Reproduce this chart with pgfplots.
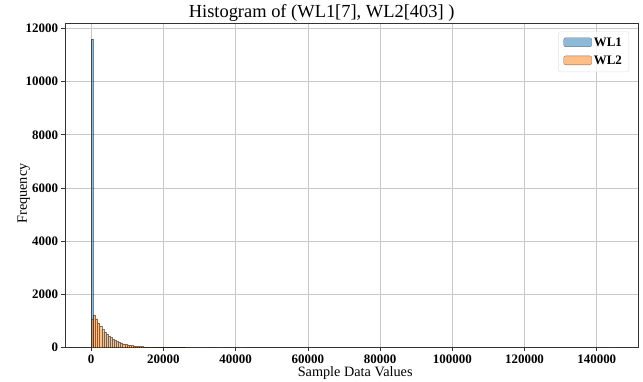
\documentclass[border=0pt]{standalone}
\usepackage{pgfplots}
\pgfplotsset{compat=1.18}
\usepackage{fontspec}
\setmainfont{Liberation Serif}
\definecolor{mplblue}{HTML}{1F77B4}
\definecolor{mplorange}{HTML}{FF7F0E}
\definecolor{gridgray}{HTML}{B0B0B0}
\newcommand{\tickfont}{\bfseries\fontsize{13}{15}\selectfont}
\begin{document}
\begin{tikzpicture}
\path[use as bounding box] (-65bp,-34.3bp) rectangle (578bp,347.7bp);
\begin{axis}[
  at={(0,0)}, anchor=south west,
  scale only axis,
  width=573.3bp, height=324.2bp,
  xmin=-7250, xmax=151500,
  ymin=0, ymax=12180,
  xtick={0,20000,40000,60000,80000,100000,120000,140000},
  xticklabels={0,20000,40000,60000,80000,100000,120000,140000},
  ytick={0,2000,4000,6000,8000,10000,12000},
  yticklabels={0,2000,4000,6000,8000,10000,12000},
  scaled ticks=false,
  xticklabel style={font=\tickfont},
  yticklabel style={font=\tickfont},
  tick align=outside,
  xtick pos=bottom, ytick pos=left,
  major tick length=3.5bp,
  tick style={black!80, line width=0.6pt},
  axis line style={black!80, line width=0.6pt},
  grid=major,
  major grid style={gridgray!70, line width=0.6pt},
  title={Histogram of (WL1[7], WL2[403] )},
  title style={font=\fontsize{18.5}{21}\selectfont, at={(0.5,1)}, anchor=base, yshift=0bp, xshift=-30bp, inner sep=0pt},
  xlabel={Sample Data Values},
  xlabel style={font=\fontsize{14.3}{17}\selectfont, at={(0.5,0)}, anchor=base, yshift=-29bp, xshift=3.5bp, inner sep=0pt},
  ylabel={Frequency},
  ylabel style={font=\fontsize{14.3}{17}\selectfont, at={(0,0.5)}, anchor=base, yshift=38bp, xshift=-8bp, inner sep=0pt},
  legend style={at={(0.984,0.975)}, anchor=north east, draw=gray!25, fill=white, fill opacity=0.8, text opacity=1, rounded corners=2pt,
    font=\tickfont, row sep=4bp, inner xsep=5bp, inner ysep=4bp},
  legend cell align=left,
  legend image code/.code={\draw[#1] (-8bp,-4bp) rectangle (20bp,5bp);},
]
\addplot[ybar, bar width=580, bar shift=0pt, fill=mplblue, fill opacity=0.5, draw=black, draw opacity=0.5, line width=0.3pt]
  coordinates {(290,11600)};
\addlegendentry{WL1}
\addplot[ybar, bar width=580, bar shift=0pt, fill=mplorange, fill opacity=0.5, draw=black, draw opacity=0.5, line width=0.3pt]
  coordinates {
  (290,1060) (870,1230) (1450,1090) (2030,930) (2610,800) (3190,690) (3770,600)
  (4350,510) (4930,440) (5510,380) (6090,325) (6670,285) (7250,240) (7830,210)
  (8410,180) (8990,150) (9570,130) (10150,112) (10730,98) (11310,84) (11890,72)
  (12470,62) (13050,53) (13630,46) (14210,40) (14790,34) (15370,29) (15950,25)
  (16530,21) (17110,18) (17690,16) (18270,13) (18850,12) (19430,10) (20010,9)
  (20590,8) (21170,7) (21750,6) (22330,5) (22910,4) (23490,4) (24070,3)
  (24650,3) (25230,2) (25810,2) (26390,1) (27550,1) (28710,1) (31030,1)
  (35670,1) (41470,1) (144010,1)
  };
\addlegendentry{WL2}
\end{axis}
\end{tikzpicture}
\end{document}
